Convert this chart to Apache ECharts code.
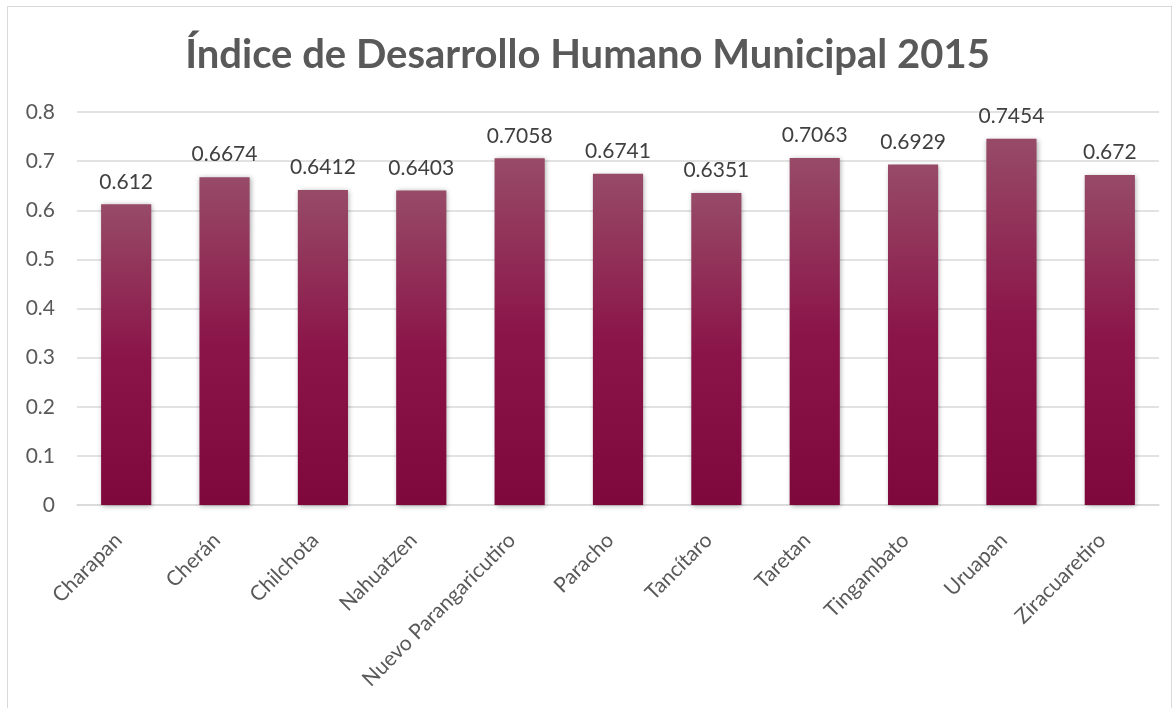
<!DOCTYPE html>
<html>
<head>
<meta charset="utf-8">
<script src="https://cdn.jsdelivr.net/npm/echarts@6/dist/echarts.min.js"></script>
<style>
  html, body { margin: 0; padding: 0; background: #fff; }
  .frame {
    position: absolute;
    left: 7px;
    top: 6px;
    width: 1165px;
    height: 720px;
    border: 1px solid #d9d9d9;
    box-sizing: border-box;
  }
  #chart { position: absolute; left: 0; top: 0; width: 1175px; height: 708px; }
</style>
</head>
<body>
<div class="frame"></div>
<div id="chart"></div>
<script>
const categories = ['Charapan', 'Cherán', 'Chilchota', 'Nahuatzen', 'Nuevo Parangaricutiro',
  'Paracho', 'Tancítaro', 'Taretan', 'Tingambato', 'Uruapan', 'Ziracuaretiro']
const values = [0.612, 0.6674, 0.6412, 0.6403, 0.7058, 0.6741, 0.6351, 0.7063, 0.6929, 0.7454, 0.672]
const yTicks = [0, 0.1, 0.2, 0.3, 0.4, 0.5, 0.6, 0.7, 0.8]

const chart = echarts.init(document.getElementById('chart'))

const font = 'Lato, "Open Sans", sans-serif'

chart.setOption({
  animation: false,
  title: {
    text: 'Índice de Desarrollo Humano Municipal 2015',
    left: 'center',
    top: 30,
    textStyle: {
      fontFamily: font,
      fontSize: 40,
      fontWeight: 'bold',
      color: '#595959'
    }
  },
  grid: {
    left: 77,
    right: 16,
    top: 112,
    bottom: 203
  },
  xAxis: {
    type: 'category',
    data: categories,
    axisLine: { lineStyle: { color: '#d9d9d9', width: 1.5 } },
    axisTick: { show: false },
    axisLabel: {
      interval: 0,
      rotate: 45,
      margin: 24,
      padding: [0, 11, 0, 0],
      color: '#595959',
      fontSize: 21,
      fontFamily: font
    }
  },
  yAxis: {
    type: 'value',
    min: yTicks[0],
    max: yTicks[yTicks.length - 1],
    interval: 0.1,
    axisLine: { show: false },
    axisTick: { show: false },
    axisLabel: {
      color: '#595959',
      fontSize: 21,
      fontFamily: font,
      margin: 22,
      formatter: v => String(Math.round(v * 10) / 10)
    },
    splitLine: { lineStyle: { color: '#d9d9d9', width: 1.5 } }
  },
  series: [{
    type: 'bar',
    data: values,
    barWidth: '51%',
    itemStyle: {
      color: new echarts.graphic.LinearGradient(0, 0, 0, 1, [
        { offset: 0, color: '#974b67' },
        { offset: 0.5, color: '#8b1549' },
        { offset: 1, color: '#7e083c' }
      ]),
      shadowBlur: 5,
      shadowColor: 'rgba(0, 0, 0, 0.35)',
      shadowOffsetX: 1,
      shadowOffsetY: 1
    },
    label: {
      show: true,
      position: 'top',
      distance: 12,
      color: '#404040',
      fontSize: 21,
      fontFamily: font
    }
  }]
})
</script>
</body>
</html>
